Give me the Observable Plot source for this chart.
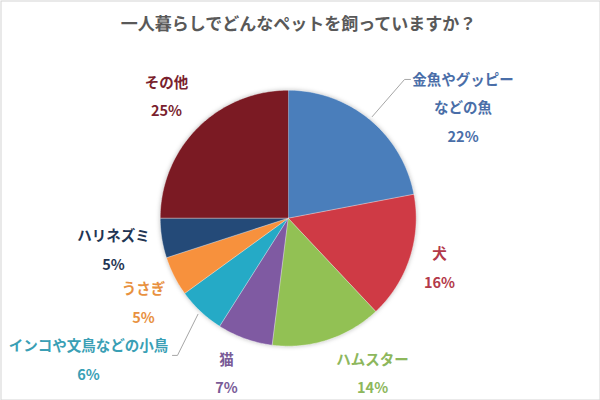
<!DOCTYPE html>
<html>
<head>
<meta charset="utf-8">
<script src="https://cdn.jsdelivr.net/npm/d3@7"></script>
<script src="https://cdn.jsdelivr.net/npm/@observablehq/plot@0.6"></script>
<style>
  html, body { margin: 0; padding: 0; background: #fff; }
  #chart { width: 600px; height: 400px; }
</style>
</head>
<body>
<div id="chart"></div>
<script>
// ---- data ----
const title = "一人暮らしでどんなペットを飼っていますか？";
const categories = ["金魚やグッピー\nなどの魚", "犬", "ハムスター", "猫", "インコや文鳥などの小鳥", "うさぎ", "ハリネズミ", "その他"];
const values = [22, 16, 14, 7, 6, 5, 5, 25];

// ---- styles ----
const sliceColors = ["#4a7ebb", "#cf3a45", "#92c154", "#7f5aa2", "#25aac6", "#f7913d", "#244a78", "#7b1a23"];
const labelColors = ["#4a6ea8", "#b33a4a", "#8db75c", "#7a5b97", "#3a9fb5", "#e8913f", "#1f3553", "#7a1f2e"];

// ---- layout (label anchors in units of radius, relative to pie centre, y up) ----
const labelPos = [[1.366, 0.892], [1.182, -0.362], [0.659, -1.186], [-0.482, -1.186],
                  [-1.560, -1.080], [-1.130, -0.635], [-1.365, -0.221], [-0.951, 0.978]];
const leaderEnds = { 0: [[0.909, 1.084], [0.955, 1.084]], 4: [[-0.865, -1.072], [-0.904, -1.072]] };

const cx = 287.7, cy = 217.7, R = 128;

const arcs = d3.pie().sort(null).value(d => d.value)(categories.map((name, i) => ({name, value: values[i], i})));

const slicePts = [];
for (const a of arcs) {
  const n = Math.max(2, Math.ceil((a.endAngle - a.startAngle) / (Math.PI / 180)));
  slicePts.push({name: a.data.name, x: 0, y: 0});
  for (let k = 0; k <= n; k++) {
    const t = a.startAngle + (a.endAngle - a.startAngle) * k / n;
    slicePts.push({name: a.data.name, x: Math.sin(t), y: Math.cos(t)});
  }
}

const labelData = arcs.map((a, i) => ({
  text: a.data.name + "\n" + a.data.value + "%",
  x: labelPos[i][0], y: labelPos[i][1], color: labelColors[i]
}));

const leaderPts = [];
for (const key of Object.keys(leaderEnds)) {
  const a = arcs[+key];
  const m = (a.startAngle + a.endAngle) / 2;
  leaderPts.push({k: key, x: 1.03 * Math.sin(m), y: 1.03 * Math.cos(m)});
  for (const p of leaderEnds[key]) leaderPts.push({k: key, x: p[0], y: p[1]});
}

const font = "'Noto Sans CJK JP', 'Noto Sans', sans-serif";

const chart = Plot.plot({
  width: 600,
  height: 400,
  margin: 0,
  style: {fontFamily: font, background: "#fff"},
  x: {domain: [-1, 1], range: [cx - R, cx + R], axis: null},
  y: {domain: [-1, 1], range: [cy + R, cy - R], axis: null},
  color: {domain: categories, range: sliceColors},
  marks: [
    Plot.frame({stroke: "#d4d4d4", inset: 0.5}),
    Plot.line(slicePts, {x: "x", y: "y", z: "name", fill: "name", stroke: "#ffffff", strokeWidth: 0.6, strokeOpacity: 0.7, curve: "linear"}),
    Plot.line(leaderPts, {x: "x", y: "y", z: "k", stroke: "#a6a6a6", strokeWidth: 1}),
    Plot.text(labelData, {x: "x", y: "y", text: "text", fill: d => d.color, fontSize: 14.5, fontWeight: "bold", lineHeight: 1.97, lineAnchor: "middle", textAnchor: "middle"}),
    Plot.text([title], {frameAnchor: "top", dy: 24.5, lineAnchor: "middle", fontSize: 17, fontWeight: "bold", fill: "#595959", dx: -2})
  ]
});

document.getElementById("chart").appendChild(chart);
// subtle shadow on the pie
const g = chart.querySelectorAll("g[aria-label='line']")[0];
if (g) g.style.filter = "drop-shadow(0px 0px 2px rgba(0,0,0,0.25))";
</script>
</body>
</html>
